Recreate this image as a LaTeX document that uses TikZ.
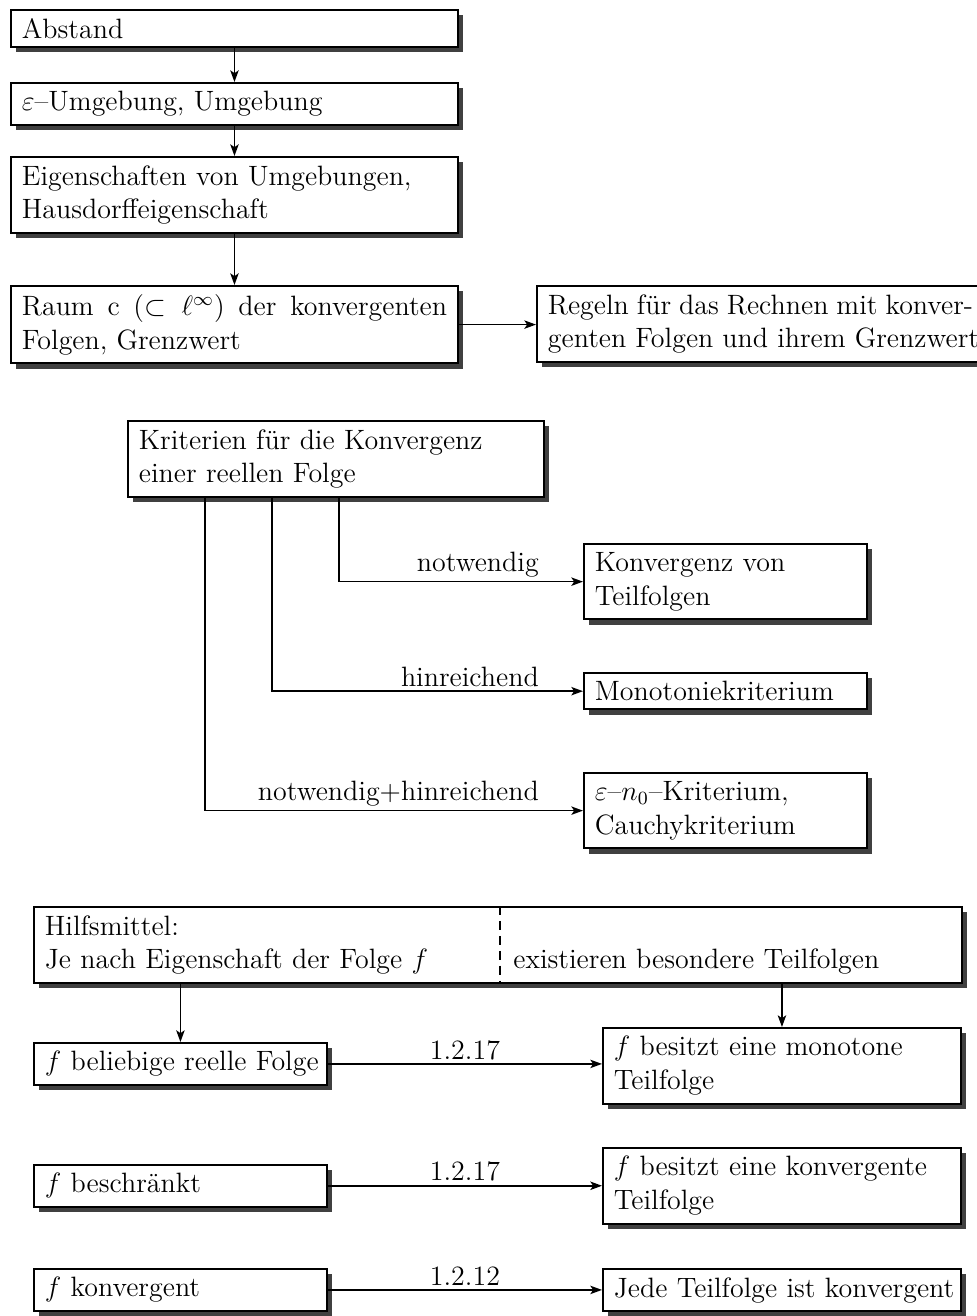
\documentclass[12pt,tikz,border=0pt]{standalone}
\usetikzlibrary{shadows,arrows.meta}
\begin{document}
\begin{tikzpicture}[x=0.429pt,y=-0.429pt,
  box/.style={draw, line width=0.8pt, fill=white, inner xsep=4.7pt, inner ysep=3.6pt,
    anchor=north west, align=left,
    drop shadow={shadow xshift=2.3pt, shadow yshift=-2.3pt, fill=black!75, opacity=1}},
  wide/.style={box, text width=182.4pt},
  conn/.style={-{Stealth[length=5pt,width=3.6pt,inset=1.2pt]}, line width=0.65pt},
  lbl/.style={inner sep=1.5pt}]
\useasboundingbox (0,0) rectangle (977,1316);
\clip (0,0) rectangle (977,1316);
% top chain
\node[wide] (B1) at (10,9) {Abstand};
\node[wide] (B2) at (10,82) {$\varepsilon$--Umgebung, Umgebung};
\node[wide] (B3) at (10,156) {Eigenschaften von Umgebungen,\\ Hausdorffeigenschaft};
\node[wide, align=justify] (B4) at (10,285) {Raum c ($\subset \ell^\infty$) der konvergenten\linebreak Folgen, Grenzwert};
\node[wide, align=justify] (R) at (536,285) {Regeln f\"ur das Rechnen mit konver-\linebreak \mbox{genten Folgen und ihrem Grenzwert}};
\draw[conn] (B1.south) -- (B2.north);
\draw[conn] (B2.south) -- (B3.north);
\draw[conn] (B3.south) -- (B4.north);
\draw[conn] (B4.east) -- (B4.east -| R.west);
% criteria
\node[box, text width=169.1pt] (K) at (127,420) {Kriterien f\"ur die Konvergenz\\ einer reellen Folge};
\node[box, text width=112pt] (KT) at (583,543) {Konvergenz von\\ Teilfolgen};
\node[box, text width=112pt] (MK) at (583,672) {Monotoniekriterium};
\node[box, text width=112pt] (EK) at (583,772) {$\varepsilon$--$n_0$--Kriterium,\\ Cauchykriterium};
\coordinate (c1) at (339,0);
\coordinate (c2) at (272,0);
\coordinate (c3) at (205,0);
\draw[conn] (K.south -| c1) |- (KT.west);
\draw[conn] (K.south -| c2) |- (MK.west);
\draw[conn] (K.south -| c3) |- (EK.west);
\node[lbl, anchor=south east] at ([xshift=-17.3pt]KT.west) {notwendig};
\node[lbl, anchor=south east] at ([xshift=-17.3pt]MK.west) {hinreichend};
\node[lbl, anchor=south east] at ([xshift=-17.3pt]EK.west) {notwendig+hinreichend};
% Hilfsmittel
\node[box, text width=388.7pt] (H) at (33,906) {Hilfsmittel:\\ \makebox[201pt][l]{Je nach Eigenschaft der Folge $f$}existieren besondere Teilfolgen};
\coordinate (d) at (500,0);
\draw[line width=0.9pt, dash pattern=on 4pt off 2.4pt] (H.north -| d) -- (H.south -| d);
\node[box, text width=116.3pt] (L1) at (33,1042) {\mbox{$f$ beliebige reelle Folge}};
\node[box, text width=116.3pt] (L2) at (33,1164) {$f$ beschr\"ankt};
\node[box, text width=116.3pt] (L3) at (33,1268) {$f$ konvergent};
\node[box, text width=144.2pt] (R1) at (602,1027) {$f$ besitzt eine monotone\\ Teilfolge};
\node[box, text width=144.2pt] (R2) at (602,1147) {$f$ besitzt eine konvergente\\ Teilfolge};
\node[box, text width=144.2pt] (R3) at (602,1268) {\mbox{Jede Teilfolge ist konvergent}};
\draw[conn] (H.south -| L1.north) -- (L1.north);
\draw[conn] (H.south -| R1.north) -- (R1.north);
\draw[conn] (L1.east) -- (L1.east -| R1.west) node[midway, above, lbl] {1.2.17};
\draw[conn] (L2.east) -- (L2.east -| R2.west) node[midway, above, lbl] {1.2.17};
\draw[conn] (L3.east) -- (L3.east -| R3.west) node[midway, above, lbl] {1.2.12};
\end{tikzpicture}
\end{document}
